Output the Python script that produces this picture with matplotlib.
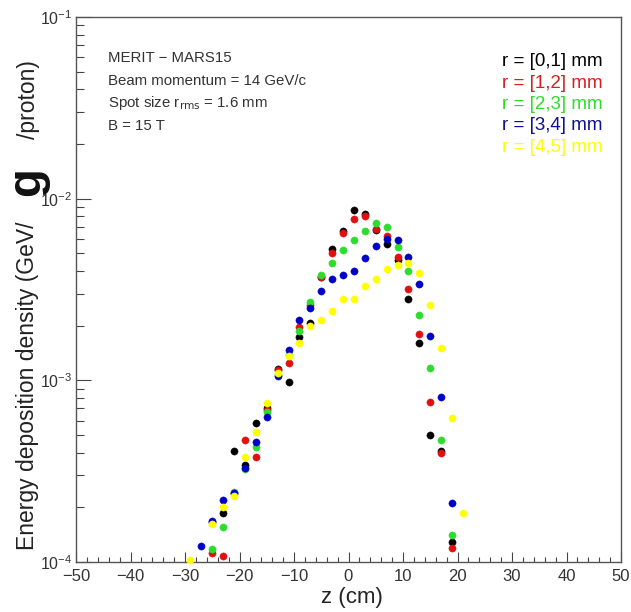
import numpy as np
import matplotlib.pyplot as plt
from matplotlib.ticker import LogLocator, MultipleLocator, NullFormatter

plt.rcParams["font.family"] = ["Liberation Sans", "DejaVu Sans"]

nan = np.nan

# bin centres along the target (cm)
z_cm = [-29, -27, -25, -23, -21, -19, -17, -15, -13, -11, -9, -7, -5,
        -3, -1, 1, 3, 5, 7, 9, 11, 13, 15, 17, 19, 21]

# energy deposition density (GeV/g/proton) per radial shell
edep_r01 = [nan, nan, 1.66e-4, 1.86e-4, 4.1e-4, 3.4e-4, 5.8e-4, 7.0e-4, 1.16e-3,
            9.8e-4, 1.73e-3, 2.06e-3, 3.7e-3, 5.3e-3, 6.6e-3, 8.7e-3, 8.2e-3,
            6.7e-3, 5.6e-3, 4.6e-3, 2.8e-3, 1.6e-3, 5.0e-4, 4.1e-4, 1.29e-4, nan]
edep_r12 = [nan, nan, 1.12e-4, 1.08e-4, 2.4e-4, 4.7e-4, 3.8e-4, 6.9e-4, 1.14e-3,
            1.25e-3, 1.97e-3, 2.6e-3, 3.7e-3, 5.0e-3, 6.5e-3, 7.7e-3, 8.0e-3,
            6.8e-3, 6.2e-3, 4.8e-3, 3.2e-3, 1.8e-3, 7.6e-4, 4.0e-4, 1.2e-4, nan]
edep_r23 = [nan, nan, 1.18e-4, 1.56e-4, 2.44e-4, 3.25e-4, 4.3e-4, 6.7e-4, 1.07e-3,
            1.38e-3, 1.87e-3, 2.7e-3, 3.8e-3, 4.4e-3, 5.2e-3, 5.9e-3, 6.6e-3,
            7.3e-3, 7.0e-3, 5.4e-3, 4.0e-3, 2.3e-3, 1.17e-3, 4.7e-4, 1.4e-4, nan]
edep_r34 = [nan, 1.22e-4, 1.69e-4, 2.2e-4, 2.4e-4, 3.3e-4, 4.6e-4, 6.3e-4, 1.05e-3,
            1.46e-3, 2.15e-3, 2.5e-3, 3.1e-3, 3.6e-3, 3.8e-3, 4.0e-3, 4.7e-3,
            5.5e-3, 6.0e-3, 5.9e-3, 4.8e-3, 3.4e-3, 1.76e-3, 8.1e-4, 2.1e-4, nan]
edep_r45 = [1.03e-4, nan, 1.62e-4, 2.0e-4, 2.3e-4, 3.8e-4, 5.2e-4, 7.5e-4, 1.1e-3,
            1.36e-3, 1.6e-3, 2.0e-3, 2.15e-3, 2.4e-3, 2.8e-3, 2.8e-3, 3.3e-3,
            3.6e-3, 4.1e-3, 4.3e-3, 4.4e-3, 3.9e-3, 2.6e-3, 1.5e-3, 6.2e-4, 1.86e-4]

labels = ["r = [0,1] mm", "r = [1,2] mm", "r = [2,3] mm", "r = [3,4] mm", "r = [4,5] mm"]
series = [edep_r01, edep_r12, edep_r23, edep_r34, edep_r45]
dot_colors = ["#000000", "#e01010", "#2ddd2d", "#0000c8", "#ffff00"]
text_colors = ["#000000", "#d42020", "#2ddd2d", "#101090", "#ffff00"]

W, H = 631, 612
fig = plt.figure(figsize=(W / 100, H / 100), dpi=100)
ax = fig.add_axes([76 / W, 1 - 562 / H, (621 - 76) / W, (562 - 17) / H])

for vals, col in zip(series, dot_colors):
    ax.plot(z_cm, vals, ls="none", marker="o", ms=5.2, mfc=col, mec=col,
            mew=0.3, clip_on=False, zorder=3)

ax.set_yscale("log")
ax.set_xlim(-50, 50)
ax.set_ylim(1e-4, 1e-1)

ax.xaxis.set_major_locator(MultipleLocator(10))
ax.xaxis.set_minor_locator(MultipleLocator(2))
ax.yaxis.set_major_locator(LogLocator(base=10))
ax.yaxis.set_minor_locator(LogLocator(base=10, subs=np.arange(2, 10)))
ax.yaxis.set_minor_formatter(NullFormatter())

ax.tick_params(axis="both", which="both", direction="in", colors="#444444",
               labelcolor="#333333", top=False, right=False)
ax.tick_params(axis="x", which="major", length=7, width=0.8, labelsize=12, pad=5)
ax.tick_params(axis="x", which="minor", length=3.5, width=0.8)
ax.tick_params(axis="y", which="major", length=11, width=0.8, labelsize=11.5, pad=3)
ax.tick_params(axis="y", which="minor", length=5.5, width=0.8)
for sp in ax.spines.values():
    sp.set_color("#555555")
    sp.set_linewidth(1.0)

# axis titles
fig.text(352 / W, 1 - 598 / H, "z (cm)", fontsize=16, color="#222222",
         ha="center", va="center")
fig.text(28 / W, 1 - 550 / H, "Energy deposition density (GeV/", fontsize=16.5,
         color="#222222", rotation=90, ha="center", va="bottom")
fig.text(27 / W, 1 - 182 / H, "g", fontsize=34, fontweight="bold",
         color="#111111", rotation=90, ha="center", va="center")
fig.text(28 / W, 1 - 60 / H, "/proton)", fontsize=16.5, color="#222222",
         rotation=90, ha="center", va="top")

# run description
info = ["MERIT \u2212 MARS15", "Beam momentum = 14 GeV/c",
        r"Spot size r$_{\mathrm{rms}}$ = 1.6 mm", "B = 15 T"]
for i, line in enumerate(info):
    fig.text(108 / W, 1 - (58 + 22.7 * i) / H, line, fontsize=10.8,
             color="#333333", ha="left", va="center")

# legend as coloured text
for i, (lab, col) in enumerate(zip(labels, text_colors)):
    fig.text(603 / W, 1 - (62 + 21.3 * i) / H, lab, fontsize=13.5,
             color=col, ha="right", va="center")

fig.savefig("out.png", dpi=100, facecolor="white")
